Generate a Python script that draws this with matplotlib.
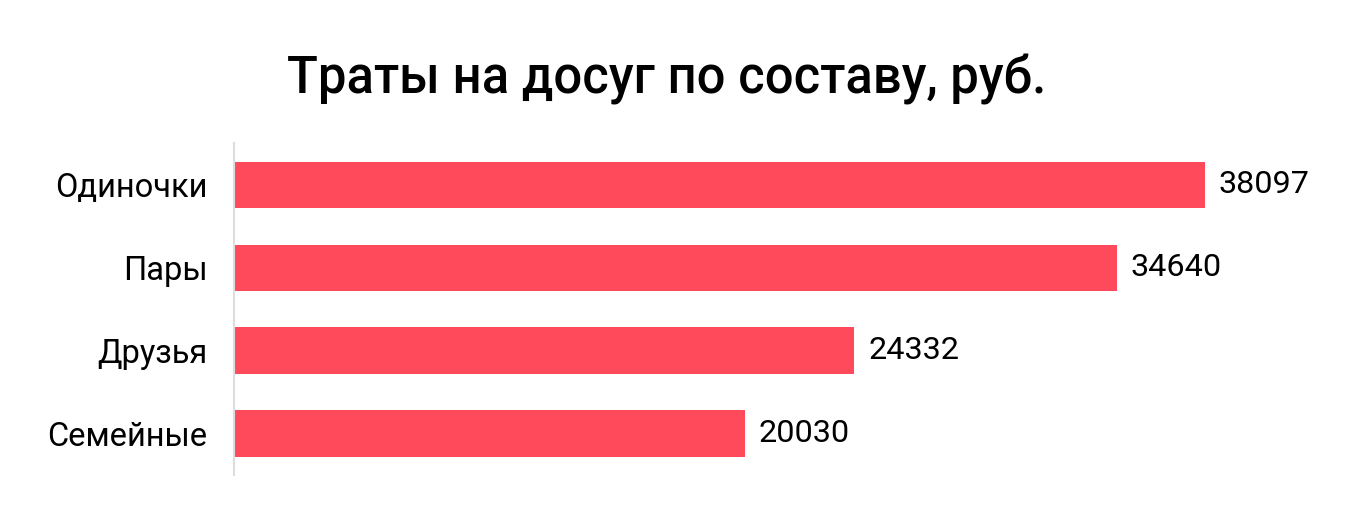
import matplotlib.pyplot as plt

plt.rcParams['font.family'] = ['Roboto', 'DejaVu Sans']

# траты на досуг по составу компании
groups = ['Одиночки', 'Пары', 'Друзья', 'Семейные']
spend = [38097, 34640, 24332, 20030]

fig = plt.figure(figsize=(13.6, 5.24), dpi=100)
ax = fig.add_axes([0.172, 0.0935, 0.806, 0.6335])

y = list(range(len(groups)))
ax.barh(y, spend, height=0.555, color='#FF4A5C')

for yi, v in zip(y, spend):
    ax.annotate(str(v), (v, yi), xytext=(10, 0), textcoords='offset points',
                va='center', ha='left', fontsize=23.3, color='black')

ax.set_yticks(y)
ax.set_yticklabels(groups, fontsize=23.5)
ax.tick_params(axis='y', length=0, pad=19)
ax.set_xticks([])
ax.set_ylim(3.5, -0.5)
ax.set_xlim(0, 43000)

for side in ['top', 'right', 'bottom']:
    ax.spines[side].set_visible(False)
ax.spines['left'].set_color('#DDDDDD')
ax.spines['left'].set_linewidth(1.5)

fig.text(0.490, 0.848, 'Траты на досуг по составу, руб.', ha='center', va='center',
         fontsize=36.5, fontweight='medium')

fig.savefig('out.png', dpi=100)
